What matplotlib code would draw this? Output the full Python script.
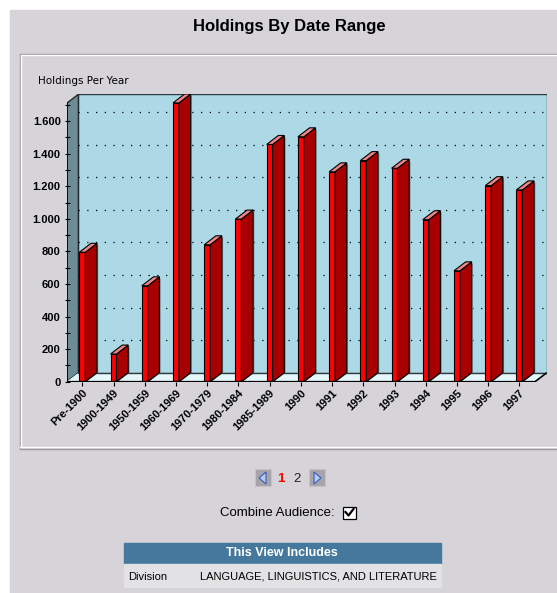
import matplotlib
matplotlib.use("Agg")
import matplotlib.pyplot as plt
from matplotlib.patches import Rectangle, Polygon

# data
categories = ["Pre-1900", "1900-1949", "1950-1959", "1960-1969", "1970-1979",
              "1980-1984", "1985-1989", "1990", "1991", "1992", "1993",
              "1994", "1995", "1996", "1997"]
holdings = [795, 170, 589, 1712, 841, 999, 1457, 1504, 1289, 1358, 1311,
            995, 681, 1204, 1178]
y_ticks = [0, 200, 400, 600, 800, 1000, 1200, 1400, 1600]
title = "Holdings By Date Range"
y_label = "Holdings Per Year"
division = "LANGUAGE, LINGUISTICS, AND LITERATURE"

W, H = 557, 593
YMAX = 1710
DX, DY = 0.374, 55      # 3d depth offset in data units
BAR_W = 0.19

BG = "#d6d4d8"
FONT = "Liberation Sans"


def fmt_thousands(v):
    return "{:,}".format(v).replace(",", ".")


def draw_page(bg):
    bg.add_patch(Rectangle((0, 0), W, H, color="white", zorder=0))
    bg.add_patch(Rectangle((10, 10), W, H, color=BG, zorder=0))
    # etched panel around the chart
    bg.plot([20, 20, W], [448, 54, 54], color="#9c9aa0", lw=1)
    bg.plot([21, 21, W], [447, 55, 55], color="white", lw=1)
    bg.plot([20, W], [447, 447], color="white", lw=1)
    bg.plot([20, W], [448.5, 448.5], color="#9c9aa0", lw=1)
    bg.text(289.5, 26, title, ha="center", va="center", fontsize=12,
            fontweight="bold", family=FONT)
    bg.text(38, 81, y_label, ha="left", va="center", fontsize=7.5,
            family="DejaVu Sans")

    # pager
    for x0, pts in [(255, [(266, 472), (266, 484), (259, 478)]),
                    (309, [(314, 472), (314, 484), (321, 478)])]:
        bg.add_patch(Rectangle((x0, 469), 16, 17, facecolor="#a6a4a8",
                               edgecolor="#c4c2c6", lw=0.8))
        bg.add_patch(Polygon(pts, closed=True, facecolor="#b8cdf0",
                             edgecolor="#3a5cc0", lw=0.8))
    bg.text(281, 478.5, "1", ha="center", va="center", fontsize=9.5,
            fontweight="bold", color="#ff0000", family=FONT)
    bg.text(297, 478.5, "2", ha="center", va="center", fontsize=9.5,
            color="#202020", family=FONT)

    bg.text(335, 512.5, "Combine Audience:", ha="right", va="center",
            fontsize=9.5, family=FONT)
    bg.add_patch(Rectangle((343, 506.5), 13, 12, facecolor="white",
                           edgecolor="black", lw=0.9))
    bg.plot([345.5, 348.5, 353.5], [512, 515.5, 509], color="black", lw=1.6)

    # info table
    bg.add_patch(Rectangle((124, 543), 317, 21, color="#44799d"))
    bg.add_patch(Rectangle((124, 564), 317, 23, color="#e2e1e4"))
    bg.text(282, 553.5, "This View Includes", ha="center", va="center",
            fontsize=9, fontweight="bold", color="white", family=FONT)
    bg.text(128, 576.5, "Division", ha="left", va="center", fontsize=8,
            family=FONT)
    bg.text(437, 576.5, division, ha="right", va="center", fontsize=8,
            family=FONT)


def draw_chart(ax):
    n = len(categories)
    x_lo, x_hi = -0.5, n - 0.5
    ax.set_xlim(x_lo, x_hi + DX)
    ax.set_ylim(0, YMAX + DY)
    ax.patch.set_visible(False)
    for s in ax.spines.values():
        s.set_visible(False)

    # walls and floor
    ax.add_patch(Rectangle((x_lo + DX, DY), x_hi - x_lo, YMAX, facecolor="#add8e6",
                           edgecolor="#2a3a40", lw=1, zorder=1))
    ax.add_patch(Polygon([(x_lo, 0), (x_lo + DX, DY), (x_lo + DX, YMAX + DY),
                          (x_lo, YMAX)], closed=True, facecolor="#6e8c96",
                         edgecolor="#1e2a2e", lw=1, zorder=1))
    ax.add_patch(Polygon([(x_lo, 0), (x_hi, 0), (x_hi + DX, DY), (x_lo + DX, DY)],
                         closed=True, facecolor="#e6f7fc", edgecolor="none",
                         zorder=1))
    ax.plot([x_lo + DX, x_hi + DX], [DY, DY], color="#2a3a40", lw=1, zorder=2)
    ax.plot([x_lo, x_hi, x_hi + DX], [0, 0, DY], color="black", lw=1.2,
            zorder=5, solid_capstyle="butt")
    ax.plot([x_lo, x_lo], [0, YMAX], color="black", lw=1.2, zorder=5)

    for v in y_ticks[1:]:
        ax.plot([x_lo + DX, x_hi + DX], [v + DY, v + DY], color="black",
                lw=0.9, linestyle=(0, (1, 6)), zorder=2)

    # bars: front face through ax.bar, side and top faces follow the values
    xs = list(range(n))
    ax.bar(xs, holdings, width=BAR_W, color="#ff0000", edgecolor="black",
           lw=0.8, zorder=4)
    for x, v in zip(xs, holdings):
        x0, x1 = x - BAR_W / 2, x + BAR_W / 2
        ax.add_patch(Polygon([(x1 + 0.04, 0), (x1 + DX + 0.04, DY),
                              (x1 + DX + 0.04, v + DY - 10), (x1 + 0.04, v)],
                             closed=True, facecolor="#5f8892", edgecolor="none",
                             zorder=3))
        ax.add_patch(Polygon([(x1, 0), (x1 + DX, DY), (x1 + DX, v + DY), (x1, v)],
                             closed=True, facecolor="#a80000", edgecolor="black",
                             lw=0.8, zorder=4))
        ax.add_patch(Polygon([(x0, v), (x1, v), (x1 + DX, v + DY), (x0 + DX, v + DY)],
                             closed=True, facecolor="#f08888", edgecolor="black",
                             lw=0.8, zorder=4))

    ax.set_yticks(y_ticks)
    ax.set_yticklabels([fmt_thousands(v) for v in y_ticks], fontsize=8,
                       fontweight="bold", family=FONT)
    ax.set_yticks(list(range(100, YMAX, 200)), minor=True)
    ax.tick_params(axis="y", which="both", direction="inout", length=3.6,
                   width=0.8, pad=2.5)
    ax.set_xticks(xs)
    ax.set_xticklabels(categories, rotation=45, ha="right",
                       rotation_mode="anchor", fontsize=8,
                       fontweight="bold", family=FONT)
    ax.tick_params(axis="x", direction="out", length=3, width=0.8, pad=1.5)


fig = plt.figure(figsize=(W / 100, H / 100), dpi=100)
bg = fig.add_axes([0, 0, 1, 1])
bg.set_xlim(0, W)
bg.set_ylim(H, 0)
bg.axis("off")
draw_page(bg)

left, right, bottom, top = 66.7, 546.7, 381.7, 94.3
ax = fig.add_axes([left / W, (H - bottom) / H, (right - left) / W, (bottom - top) / H])
draw_chart(ax)

fig.savefig("out.png", dpi=100)
